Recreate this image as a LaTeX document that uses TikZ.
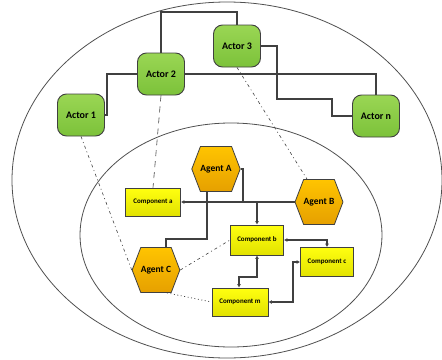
\documentclass[tikz,border=0pt]{standalone}
\usepackage{fontspec}
\setmainfont{Carlito}
\usetikzlibrary{shapes.symbols,arrows.meta}

\definecolor{rimgray}{HTML}{505050}
\definecolor{wire}{HTML}{404040}
\definecolor{actortop}{HTML}{9AD654}
\definecolor{actorbot}{HTML}{7CC23A}
\definecolor{agenttop}{HTML}{FFC400}
\definecolor{agentbot}{HTML}{E6A000}
\definecolor{comptop}{HTML}{FFFF10}
\definecolor{compbot}{HTML}{E2E200}

\tikzset{
  actorbox/.style={rectangle, rounded corners=9pt, draw=wire, line width=0.9pt,
    top color=actortop, bottom color=actorbot, minimum width=47pt, minimum height=42pt,
    inner sep=0pt, font=\bfseries\fontsize{10}{11}\selectfont},
  agentbox/.style={signal, signal to=west and east, signal pointer angle=138,
    draw=wire, line width=0.8pt, top color=agenttop, bottom color=agentbot,
    minimum width=42pt, minimum height=45pt, inner sep=0pt,
    font=\bfseries\fontsize{9.5}{10}\selectfont},
  compbox/.style={rectangle, draw=wire, line width=0.9pt, top color=comptop,
    bottom color=compbot, minimum width=55pt, minimum height=28pt, inner sep=0pt,
    font=\bfseries\fontsize{7}{8}\selectfont},
  link/.style={draw=wire, line width=1.1pt},
  tiplink/.style={link, arrows={-Latex[length=3.5pt,width=4pt]}},
  duplink/.style={link, arrows={Latex[length=3.5pt,width=4pt]-Latex[length=3.5pt,width=4pt]}},
  dashdot/.style={draw=wire, line width=0.6pt, dash pattern=on 3pt off 3pt on 1pt off 3pt},
  longdash/.style={draw=wire, line width=0.6pt, dash pattern=on 6pt off 5pt},
  dots/.style={draw=wire, line width=0.7pt, dash pattern=on 1pt off 2.5pt},
  rim/.style={draw=rimgray, line width=0.8pt}
}

\begin{document}
\begin{tikzpicture}[x=1pt,y=-1pt]
\useasboundingbox (0,0) rectangle (442,359);

% system boundary and agent layer
\draw[rim] (227,180) ellipse [x radius=215, y radius=178];
\draw[rim] (231,235) ellipse [x radius=151, y radius=112];

% actors
\node[actorbox] (act1) at (81,115) {Actor 1};
\node[actorbox] (act2) at (161,74) {Actor 2};
\node[actorbox] (act3) at (237,46) {Actor 3};
\node[actorbox] (actn) at (376,116) {Actor n};

% agents
\node[agentbox] (agA) at (216,169) {Agent A};
\node[agentbox] (agB) at (319,202) {Agent B};
\node[agentbox] (agC) at (156,270) {Agent C};

% components
\node[compbox] (cmpA) at (153,202) {Component a};
\node[compbox, minimum width=53pt, minimum height=30pt] (cmpB) at (257,240) {Component b};
\node[compbox, minimum width=53pt, minimum height=29pt] (cmpC) at (327,262) {Component c};
\node[compbox, minimum width=56pt] (cmpM) at (240,302) {Component m};

% actor links
\draw[link] (act1.east) -- ++(2,0) |- (act2.west);
\draw[link] (act2.north) -- (act2.north |- 0,12) -| (act3.north);
\draw[link] (act2.east) -| (actn.north);
\draw[link] (act3.east) -- (act3.east -| 277,0) -- (277,99) -- (332,99) -- (332,116) -- (actn.west);

% actor to agent-layer associations
\draw[dashdot] (act1.south) -- (agC.west);
\draw[longdash] (act2.south) -- (cmpA.north);
\draw[dashdot] (act3.south) -- ([xshift=-12pt]agB.north);
\draw[dashdot] (agC.east) -- (cmpB.west);
\draw[dots] ([xshift=11pt]agC.south) -- (cmpM.west);

% agent and component links
\draw[tiplink] (agB.west) -- (cmpA.east);
\draw[tiplink] (agA.east) -- (243,169) -- (243,202) -- (cmpB.north |- 0,202) -- (cmpB.north);
\draw[link] ([xshift=10pt]agC.north) |- (207,239) -- ([xshift=-9pt]agA.south);
\draw[duplink] ([xshift=-1pt]cmpM.north) |- (257,277) -- (cmpB.south);
\draw[duplink] (cmpC.north) |- (cmpB.east);
\draw[duplink] (cmpM.east) -- (293,302) |- (cmpC.west);
\end{tikzpicture}
\end{document}
